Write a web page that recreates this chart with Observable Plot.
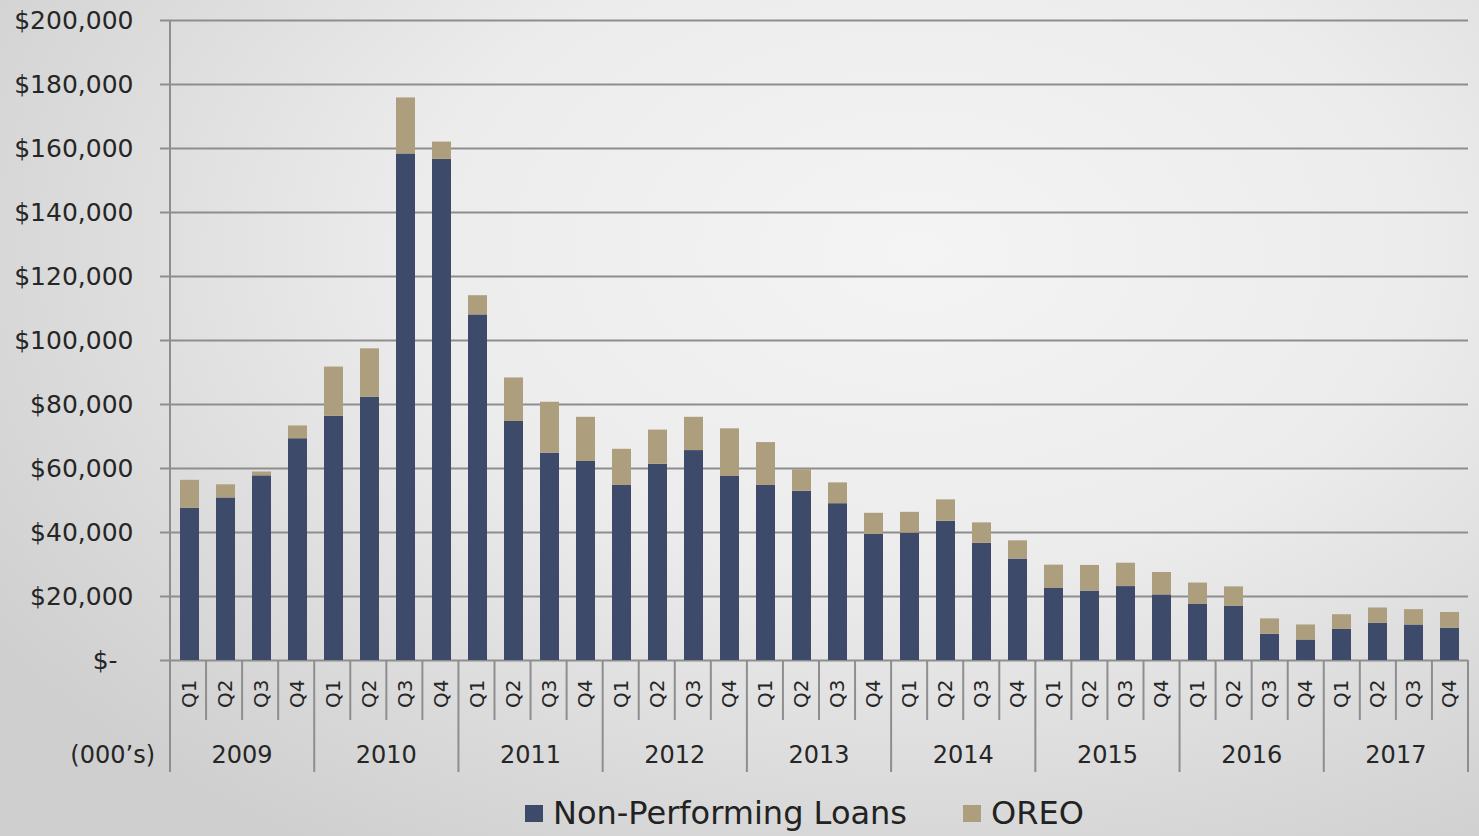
<!DOCTYPE html>
<html>
<head>
<meta charset="utf-8">
<script src="https://cdn.jsdelivr.net/npm/d3@7"></script>
<script src="https://cdn.jsdelivr.net/npm/@observablehq/plot@0.6"></script>
<style>
  html, body { margin: 0; padding: 0; }
  body {
    width: 1479px; height: 836px; overflow: hidden; position: relative;
    background: radial-gradient(ellipse 75% 85% at 62% 30%, #f4f4f4 0%, #ececec 45%, #d9d9d9 80%, #cfcfcf 100%);
    font-family: "DejaVu Sans", sans-serif;
  }
  #chart { position: absolute; left: 0; top: 0; }
  #legend {
    position: absolute; left: 525px; top: 790px; height: 46px;
    display: flex; align-items: center; font-size: 32px; color: #222;
  }
  #legend .item { display: flex; align-items: center; margin-right: 56px; }
  #legend .sw { width: 18px; height: 17px; margin-right: 10px; }
</style>
</head>
<body>
<div id="chart"></div>
<div id="legend"></div>
<script>
// ---- data ----
const years = [2009, 2010, 2011, 2012, 2013, 2014, 2015, 2016, 2017];
const quarters = ["Q1", "Q2", "Q3", "Q4"];
const seriesNames = ["Non-Performing Loans", "OREO"];
const npl = [
  47600, 50800, 57700, 69300,
  76300, 82300, 158300, 156600,
  108000, 74700, 64800, 62200,
  54700, 61300, 65600, 57500,
  54700, 52900, 49000, 39400,
  39800, 43500, 36600, 31700,
  22500, 21700, 23100, 20500,
  17500, 16900, 8200, 6400,
  9800, 11600, 11100, 10100
];
const oreo = [
  8700, 4100, 1200, 4000,
  15400, 15100, 17500, 5400,
  6000, 13600, 15900, 13800,
  11300, 10700, 10400, 14900,
  13400, 6700, 6500, 6600,
  6500, 6700, 6400, 5700,
  7300, 8000, 7300, 7000,
  6700, 6100, 4800, 4700,
  4500, 4800, 4800, 4900
];
const yTicks = [0, 20000, 40000, 60000, 80000, 100000, 120000, 140000, 160000, 180000, 200000];
const unitLabel = "(000\u2019s)";
const colors = ["#3d4a6a", "#ad9e7d"];

// ---- table built from arrays ----
const keys = years.flatMap(y => quarters.map(q => `${y} ${q}`));
const rows = keys.flatMap((k, i) => [
  {key: k, series: seriesNames[0], value: npl[i]},
  {key: k, series: seriesNames[1], value: oreo[i]}
]);

const fmtY = v => v === 0 ? "$-\u00a0\u00a0" : "$" + d3.format(",")(v);
const gridColor = "#8e8e8e";
const textColor = "#262626";

const plot = Plot.plot({
  width: 1479,
  height: 790,
  marginLeft: 170,
  marginRight: 11,
  marginTop: 20,
  marginBottom: 130,
  style: {background: "transparent", fontFamily: "DejaVu Sans", color: textColor, overflow: "visible"},
  x: {domain: keys, paddingInner: 0.48, paddingOuter: 0.24, label: null},
  y: {domain: [0, 200000], label: null},
  color: {domain: seriesNames, range: colors},
  marks: [
    Plot.gridY(yTicks, {stroke: gridColor, strokeOpacity: 1, strokeWidth: 2}),
    Plot.axisY(yTicks, {
      tickSize: 10, tickPadding: 27, stroke: gridColor, strokeWidth: 2,
      tickFormat: fmtY, fontSize: 25, fill: textColor, label: null
    }),
    Plot.barY(rows, Plot.stackY({x: "key", y: "value", fill: "series", order: seriesNames})),
    Plot.axisX({
      tickSize: 0, tickPadding: 19, tickRotate: -90,
      tickFormat: k => k.split(" ")[1], fontSize: 20, fill: textColor, label: null
    })
  ]
});

// category separators, year labels, unit label — positioned via the plot's own x scale
const xs = plot.scale("x");
const [r0, r1] = xs.range;
const step = (r1 - r0) / keys.length;
const yBase = 660;
const svg = d3.select(plot.tagName === "svg" ? plot : plot.querySelector("svg"));
const g = svg.append("g");
for (let i = 0; i <= keys.length; i++) {
  const isYear = i % quarters.length === 0;
  g.append("line")
    .attr("x1", r0 + i * step).attr("x2", r0 + i * step)
    .attr("y1", i === 0 ? 20 : yBase).attr("y2", isYear ? 772 : 720)
    .attr("stroke", gridColor).attr("stroke-width", 2);
}
years.forEach((yr, j) => {
  g.append("text")
    .attr("x", r0 + (j * quarters.length + quarters.length / 2) * step)
    .attr("y", 755).attr("dy", "0.35em")
    .attr("text-anchor", "middle").attr("font-size", 24).attr("fill", textColor)
    .text(yr);
});
g.append("text")
  .attr("x", 155).attr("y", 755).attr("dy", "0.35em")
  .attr("text-anchor", "end").attr("font-size", 24).attr("fill", textColor)
  .text(unitLabel);

document.getElementById("chart").appendChild(plot);

// legend
const leg = document.getElementById("legend");
seriesNames.forEach((s, i) => {
  const it = document.createElement("div");
  it.className = "item";
  const sw = document.createElement("span");
  sw.className = "sw";
  sw.style.background = colors[i];
  const t = document.createElement("span");
  t.textContent = s;
  it.appendChild(sw); it.appendChild(t);
  leg.appendChild(it);
});
</script>
</body>
</html>
